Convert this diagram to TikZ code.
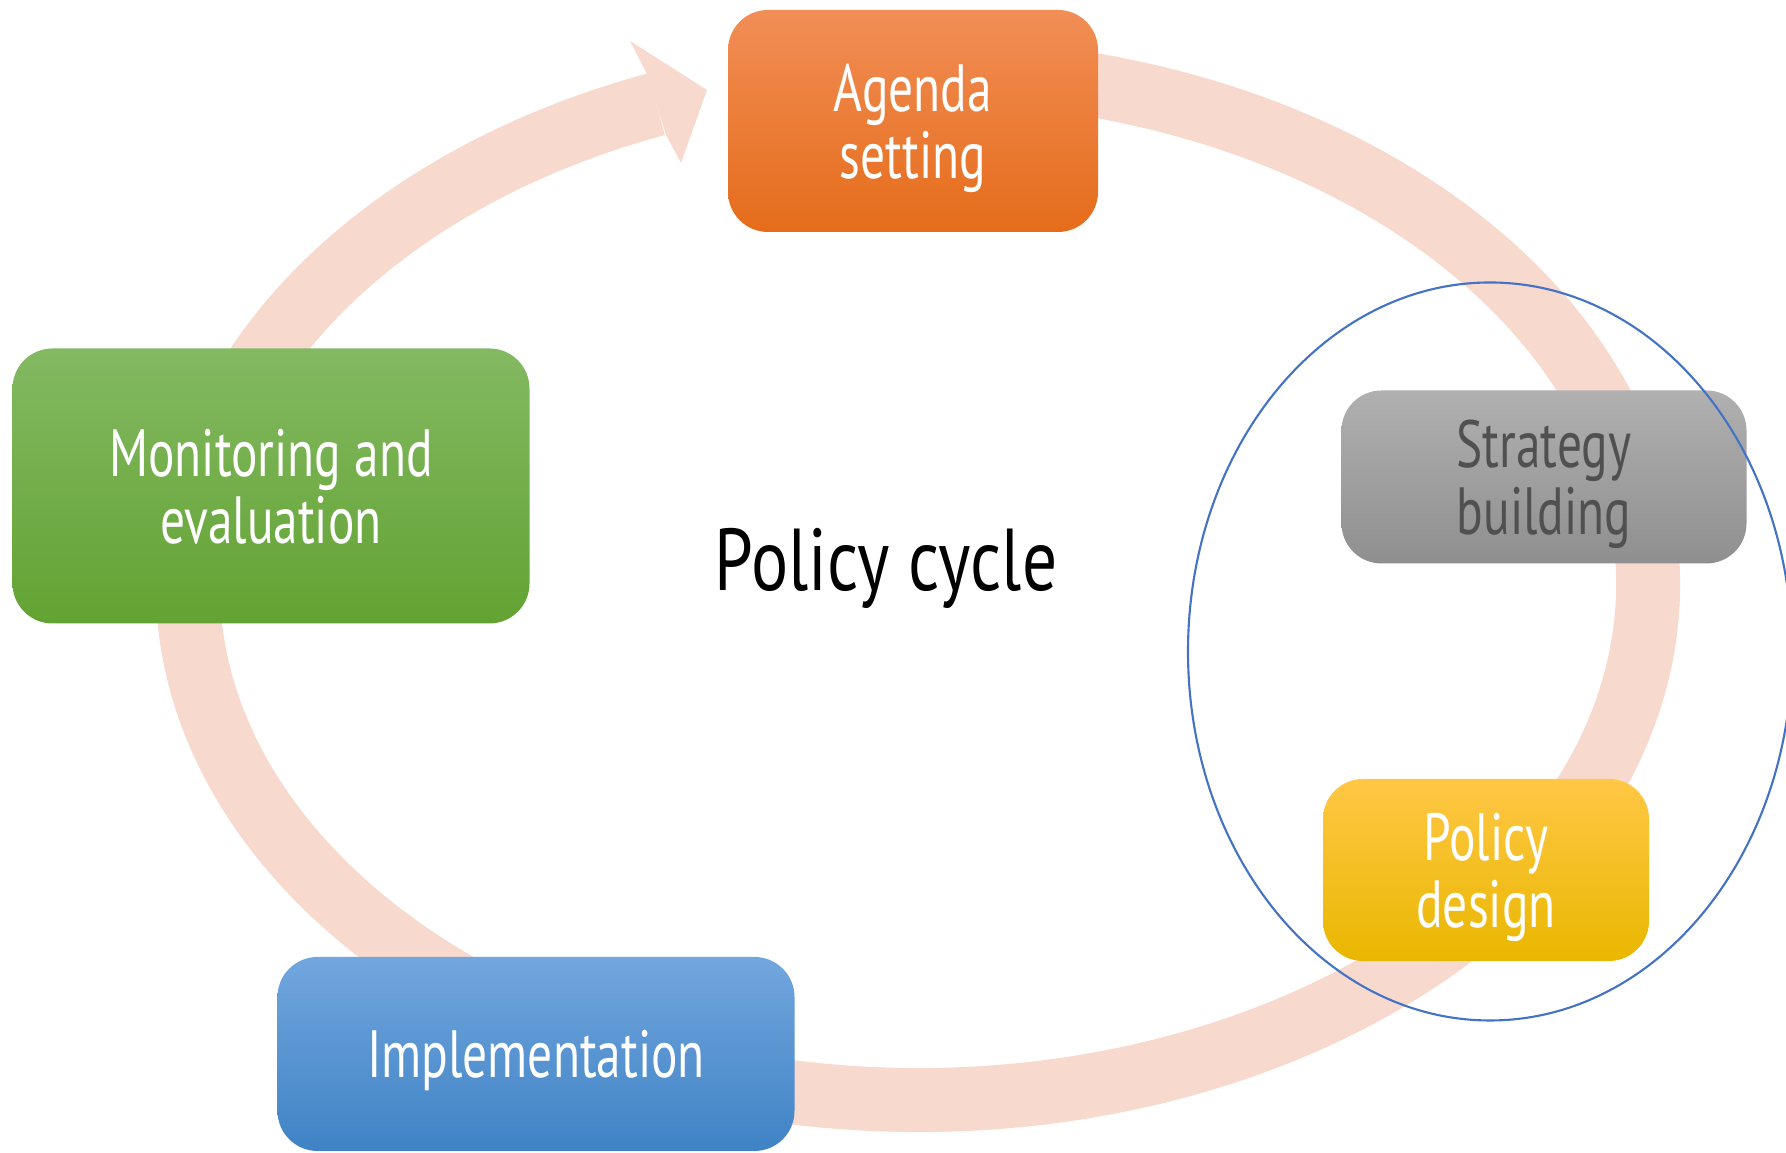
\documentclass[tikz,border=0pt]{standalone}
\usepackage{fontspec}
\usepackage{tikz}
\newfontfamily\dinfont{PT Sans}[FakeStretch=0.74]
\newfontfamily\titlefont{PT Sans}[FakeStretch=0.79]
\definecolor{ringpink}{RGB}{248,217,206}
\definecolor{rimblue}{RGB}{68,114,196}
\definecolor{agendatop}{RGB}{241,142,86}
\definecolor{agendabot}{RGB}{229,108,26}
\definecolor{monitortop}{RGB}{131,185,98}
\definecolor{monitorbot}{RGB}{98,163,50}
\definecolor{strategytop}{RGB}{176,176,176}
\definecolor{strategybot}{RGB}{143,143,143}
\definecolor{strategytext}{RGB}{80,80,80}
\definecolor{designtop}{RGB}{255,199,69}
\definecolor{designmid}{RGB}{255,200,0}
\definecolor{designbot}{RGB}{233,183,0}
\definecolor{impltop}{RGB}{114,166,222}
\definecolor{implbot}{RGB}{63,131,197}

\begin{document}
\begin{tikzpicture}[
    stage/.style={rounded corners=0.4cm, text=white, align=center, inner sep=0pt,
        text depth=0pt, font=\dinfont\fontsize{19}{19}\selectfont},
    ring/.style={draw=ringpink, line width=0.64cm},
    rim/.style={draw=rimblue, line width=0.6pt}]
    \useasboundingbox (0,0) rectangle (17.86,11.53);
            \coordinate (ringc) at (9.18,5.68);
            \draw[ring] ([shift={(80:7.3 and 5.15)}]ringc) arc[start angle=80, end angle=-249, x radius=7.3, y radius=5.15];
            \fill[ringpink] (6.46,10.81) -- (6.30,11.12) -- (7.07,10.63) -- (6.81,9.90) -- (6.66,10.18) -- cycle;

            \node[stage, top color=strategytop, bottom color=strategybot, text=strategytext, minimum width=4.05cm, minimum height=1.73cm] (strategy) at (15.44,6.76) {Strategy\\building};
            \draw[rim] (14.90,5.015) ellipse[x radius=3.02, y radius=3.69];

            \node[stage, top color=agendatop, bottom color=agendabot, minimum width=3.70cm, minimum height=2.22cm] (agenda) at (9.13,10.32) {Agenda\\setting};
            \node[stage, top color=monitortop, bottom color=monitorbot, minimum width=5.17cm, minimum height=2.75cm] (monitor) at (2.71,6.67) {Monitoring and\\evaluation};
            \node[stage, top color=designtop, middle color=designmid, bottom color=designbot, minimum width=3.26cm, minimum height=1.82cm] (design) at (14.86,2.83) {Policy\\design};
            \node[stage, top color=impltop, bottom color=implbot, minimum width=5.17cm, minimum height=1.94cm] (implement) at (5.36,0.99) {Implementation};

            \node[font=\titlefont\fontsize{25}{25}\selectfont] (title) at (8.86,5.85) {Policy cycle};
        \end{tikzpicture}
\end{document}
